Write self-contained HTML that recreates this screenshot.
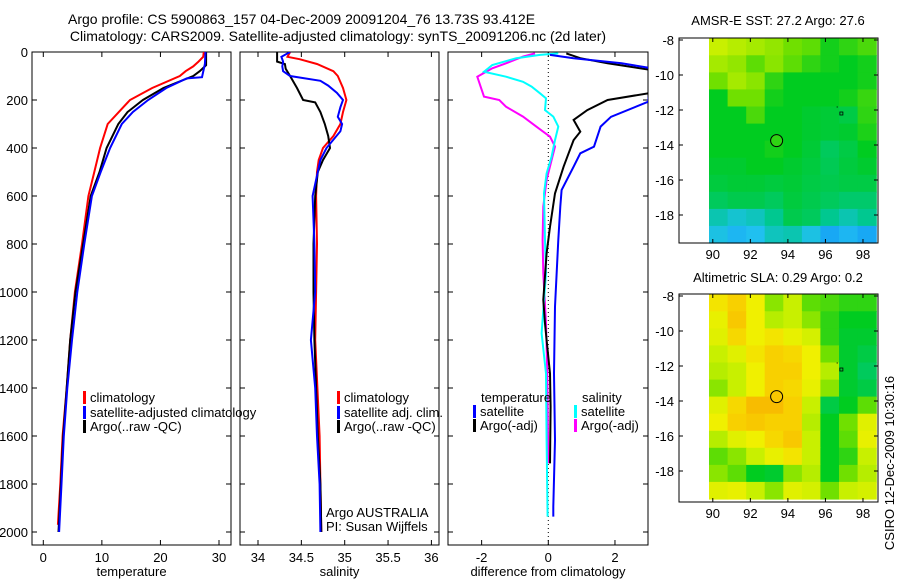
<!DOCTYPE html>
<html><head><meta charset="utf-8">
<style>
html,body{margin:0;padding:0;background:#fff;}
svg{display:block;font-family:"Liberation Sans",sans-serif;}
text{font-size:13px;fill:#000;}
</style></head>
<body>
<svg id="fig" width="900" height="580" viewBox="0 0 900 580" xmlns="http://www.w3.org/2000/svg">
<text x="68" y="24" text-anchor="start" style="font-size:14px">Argo profile: CS 5900863_157 04-Dec-2009 20091204_76 13.73S 93.412E</text>
<text x="338" y="41" text-anchor="middle" style="font-size:14px">Climatology: CARS2009. Satellite-adjusted climatology: synTS_20091206.nc (2d later)</text>
<text x="778" y="25" text-anchor="middle">AMSR-E SST: 27.2 Argo: 27.6</text>
<text x="778" y="282" text-anchor="middle">Altimetric SLA: 0.29 Argo: 0.2</text>
<text x="0" y="0" text-anchor="middle" transform="translate(894,463) rotate(-90)">CSIRO 12-Dec-2009 10:30:16</text>
</svg>
<script>
// ---------- data ----------
const depthTicks=[0,200,400,600,800,1000,1200,1400,1600,1800,2000];
const tempTicks=[0,10,20,30];
const salTicks=[34,34.5,35,35.5,36];
const diffTicks=[-2,0,2];
const lonTicks=[90,92,94,96,98];
const latTicks=[-8,-10,-12,-14,-16,-18];

const tClimDepth=[0,20,40,60,80,100,150,200,300,400,500,600,800,1000,1200,1400,1600,1800,1970];
const tClimVal=[27.4,27.3,26.5,25.6,24.3,23.3,18.6,14.8,11.0,9.7,8.7,7.7,6.6,5.4,4.6,4.0,3.3,2.9,2.5];
const tSatDepth=[0,50,105,110,150,200,250,300,400,500,600,800,1000,1200,1400,1600,1800,2000];
const tSatVal=[27.7,27.6,27.1,24.5,21.0,17.9,15.3,13.4,11.4,9.8,8.3,7.0,5.8,4.9,4.1,3.5,3.1,2.7];
const tArgoDepth=[0,55,80,100,150,200,250,300,400,500,600,800,1000,1200,1400,1600,1800,2000];
const tArgoVal=[27.8,27.8,26.7,25.6,20.5,17.0,14.4,12.8,10.8,9.6,8.1,6.8,5.5,4.6,4.0,3.4,3.0,2.6];

const sClimDepth=[0,20,30,50,80,100,150,200,250,300,350,400,450,500,600,800,1200,1600,1800,2000];
const sClimVal=[34.37,34.34,34.48,34.68,34.87,34.92,34.98,35.02,34.98,34.95,34.87,34.75,34.70,34.68,34.67,34.68,34.66,34.71,34.72,34.73];
const sSatDepth=[0,20,40,60,80,100,120,140,170,200,230,270,300,330,400,450,500,600,800,1000,1200,1400,1600,1800,2000];
const sSatVal=[34.37,34.27,34.29,34.28,34.29,34.37,34.72,34.81,34.91,34.98,34.95,34.92,34.97,34.95,34.79,34.72,34.69,34.63,34.65,34.66,34.61,34.66,34.68,34.71,34.72];
const sArgoDepth=[0,40,50,70,100,150,200,210,250,300,350,400,450,500,600,800,1000,1200,1400,1600,1800,2000];
const sArgoVal=[34.22,34.22,34.31,34.32,34.37,34.45,34.52,34.66,34.72,34.77,34.81,34.83,34.75,34.69,34.66,34.64,34.64,34.65,34.67,34.69,34.72,34.73];

const dTSatDepth=[12,26,47,68,207,270,311,394,422,478,575,644,783,1061,1339,1617,1894,1936];
const dTSatVal=[0.05,0.76,2.2,3.1,3.0,1.88,1.57,1.37,0.96,0.76,0.4,0.36,0.3,0.2,0.17,0.2,0.15,0.15];
const dTArgoDepth=[6,26,47,75,172,200,242,283,332,367,422,478,589,728,839,1033,1131,1200,1339,1478,1714];
const dTArgoVal=[0.54,0.96,1.78,3.1,3.0,1.78,1.17,0.76,0.96,0.76,0.61,0.46,0.2,0.05,-0.05,-0.15,-0.1,-0.05,0.05,0.07,0.05];
const dSSatDepth=[6,12,26,54,82,103,124,144,172,193,242,269,311,367,436,506,589,783,922,1172,1339,1617,1936];
const dSSatVal=[0.3,-0.25,-0.96,-1.68,-1.93,-1.27,-0.76,-0.5,-0.25,-0.07,-0.1,0.15,0.3,0.2,0.1,-0.05,-0.13,-0.1,-0.07,-0.2,-0.07,-0.05,-0.02];
const dSArgoDepth=[6,19,47,68,103,144,186,200,228,269,311,353,394,450,533,644,783,922,1131,1339,1714];
const dSArgoVal=[-0.4,-0.76,-1.27,-1.68,-2.13,-2.03,-1.93,-1.47,-1.27,-0.76,-0.36,0.05,0.2,0.1,-0.05,-0.15,-0.17,-0.15,-0.07,-0.03,0];

const sstGrid=[
[0.72,0.70,0.68,0.66,0.62,0.60,0.52,0.55,0.58],
[0.68,0.66,0.60,0.65,0.60,0.55,0.52,0.50,0.52],
[0.62,0.68,0.65,0.55,0.50,0.50,0.50,0.50,0.52],
[0.50,0.62,0.62,0.52,0.50,0.50,0.50,0.52,0.56],
[0.50,0.50,0.58,0.50,0.50,0.48,0.47,0.45,0.55],
[0.50,0.50,0.50,0.50,0.50,0.48,0.47,0.48,0.53],
[0.50,0.50,0.50,0.52,0.50,0.47,0.42,0.45,0.50],
[0.48,0.48,0.50,0.50,0.48,0.46,0.43,0.46,0.48],
[0.46,0.47,0.47,0.46,0.47,0.45,0.44,0.45,0.45],
[0.42,0.44,0.44,0.42,0.46,0.44,0.42,0.40,0.40],
[0.30,0.25,0.28,0.35,0.44,0.42,0.35,0.30,0.35],
[0.22,0.18,0.20,0.28,0.30,0.22,0.15,0.18,0.15]];
const slaGrid=[
[0.85,0.90,0.82,0.65,0.72,0.60,0.58,0.55,0.55],
[0.80,0.92,0.82,0.70,0.72,0.65,0.55,0.50,0.50],
[0.78,0.88,0.82,0.85,0.80,0.75,0.55,0.48,0.48],
[0.72,0.78,0.85,0.90,0.88,0.82,0.62,0.48,0.45],
[0.70,0.72,0.82,0.90,0.90,0.82,0.70,0.48,0.42],
[0.65,0.72,0.82,0.90,0.88,0.80,0.65,0.48,0.45],
[0.78,0.88,0.95,0.95,0.90,0.72,0.45,0.50,0.60],
[0.82,0.90,0.92,0.90,0.90,0.70,0.50,0.62,0.78],
[0.70,0.78,0.82,0.88,0.92,0.72,0.50,0.60,0.80],
[0.60,0.65,0.72,0.80,0.85,0.72,0.50,0.55,0.72],
[0.65,0.60,0.50,0.48,0.65,0.70,0.50,0.62,0.70],
[0.78,0.80,0.72,0.65,0.78,0.75,0.62,0.72,0.75]];
const gridLon0=89.8, gridLon1=98.7, gridLat0=-7.9, gridLat1=-19.6;
const argoPos=[93.4,-13.75];
const sstCircleVal=0.55, slaCircleVal=0.92;

// ---------- helpers ----------
const NS="http://www.w3.org/2000/svg";
const svg=document.getElementById('fig');
function mk(tag,attrs,parent){const e=document.createElementNS(NS,tag);for(const k in attrs)e.setAttribute(k,attrs[k]);(parent||svg).appendChild(e);return e;}
function lin(d0,d1,r0,r1){return v=>r0+(v-d0)*(r1-r0)/(d1-d0);}
const yDepth=lin(0,2000,52,532);
const PY0=52,PY1=545;
const panels=[
 {name:'temperature',x0:32,x1:231,sx:lin(0,30,43.3,219),ticks:tempTicks,label:'temperature'},
 {name:'salinity',x0:240,x1:439,sx:lin(34,36,258,431.4),ticks:salTicks,label:'salinity'},
 {name:'difference',x0:448,x1:648,sx:lin(-3,3,448.3,648.3),ticks:diffTicks,label:'difference from climatology'}];

function drawLine(p,dep,val,color,name,w){
  const pts=dep.map((d,i)=>{let x=p.sx(val[i]);x=Math.max(p.x0-30,Math.min(p.x1+30,x));return x.toFixed(1)+','+yDepth(d).toFixed(1);}).join(' ');
  const g=p.clip;
  const el=mk('polyline',{points:pts,fill:'none',stroke:color,'stroke-width':w||2,'stroke-linejoin':'miter'},g);
  
  
}

// ---------- profile panels ----------
const defs=mk('defs',{});
panels.forEach((p,pi)=>{
  const cp=mk('clipPath',{id:'clip'+pi},defs);
  mk('rect',{x:p.x0,y:PY0,width:p.x1-p.x0,height:PY1-PY0},cp);
  const frame=mk('rect',{x:p.x0,y:PY0,width:p.x1-p.x0,height:PY1-PY0,fill:'none',stroke:'#000','stroke-width':1});
  
  
  depthTicks.forEach(d=>{
    const y=yDepth(d);
    mk('line',{x1:p.x0,x2:p.x0+5,y1:y,y2:y,stroke:'#000'});
    mk('line',{x1:p.x1-5,x2:p.x1,y1:y,y2:y,stroke:'#000'});
    if(pi===0){
      const t=mk('text',{x:p.x0-4,y:y+5,'text-anchor':'end'});t.textContent=d;
      
      
    }
  });
  p.ticks.forEach(v=>{
    const x=p.sx(v);
    mk('line',{x1:x,x2:x,y1:PY1,y2:PY1-5,stroke:'#000'});
    mk('line',{x1:x,x2:x,y1:PY0,y2:PY0+5,stroke:'#000'});
    const t=mk('text',{x:x,y:562,'text-anchor':'middle'});t.textContent=v;
    
    
  });
  const xl=mk('text',{x:(p.x0+p.x1)/2,y:576,'text-anchor':'middle'});xl.textContent=p.label;
  
  
  p.clip=mk('g',{'clip-path':'url(#clip'+pi+')'});
});
// zero line
const zl=mk('line',{x1:panels[2].sx(0),x2:panels[2].sx(0),y1:PY0,y2:PY1,stroke:'#000','stroke-dasharray':'1,3','stroke-width':1},panels[2].clip);



drawLine(panels[0],tClimDepth,tClimVal,'#ff0000','temp-climatology-line');
drawLine(panels[0],tArgoDepth,tArgoVal,'#000000','temp-argo-line');
drawLine(panels[0],tSatDepth,tSatVal,'#0000ff','temp-satellite-line');
drawLine(panels[1],sClimDepth,sClimVal,'#ff0000','sal-climatology-line');
drawLine(panels[1],sArgoDepth,sArgoVal,'#000000','sal-argo-line');
drawLine(panels[1],sSatDepth,sSatVal,'#0000ff','sal-satellite-line');
drawLine(panels[2],dSArgoDepth,dSArgoVal,'#ff00ff','diff-sal-argo-line');
drawLine(panels[2],dSSatDepth,dSSatVal,'#00ffff','diff-sal-satellite-line');
drawLine(panels[2],dTArgoDepth,dTArgoVal,'#000000','diff-temp-argo-line');
drawLine(panels[2],dTSatDepth,dTSatVal,'#0000ff','diff-temp-satellite-line');

// legends
function legend(x,y,color,label,name){
  if(color){const m=mk('rect',{x:x,y:y-6,width:3,height:13,fill:color});
    
    }
  const t=mk('text',{x:x+7,y:y+5});t.textContent=label;
  
  
}
legend(83,397,'#ff0000','climatology','legend-climatology');
legend(83,412,'#0000ff','satellite-adjusted climatology','legend-satellite-adjusted');
legend(83,426,'#000000','Argo(..raw -QC)','legend-argo');
legend(337,397,'#ff0000','climatology','legend-sal-climatology');
legend(337,412,'#0000ff','satellite adj. clim.','legend-sal-satellite');
legend(337,426,'#000000','Argo(..raw -QC)','legend-sal-argo');
legend(474,397,null,'temperature','legend-temperature-header');
legend(473,411,'#0000ff','satellite','legend-diff-temp-satellite');
legend(473,425,'#000000','Argo(-adj)','legend-diff-temp-argo');
legend(575,397,null,'salinity','legend-salinity-header');
legend(574,411,'#00ffff','satellite','legend-diff-sal-satellite');
legend(574,425,'#ff00ff','Argo(-adj)','legend-diff-sal-argo');
const a1=mk('text',{x:326,y:517});a1.textContent='Argo AUSTRALIA';


const a2=mk('text',{x:326,y:531});a2.textContent='PI: Susan Wijffels';



// ---------- maps ----------
const cmStops=[[0,[0,96,255]],[0.2,[32,192,240]],[0.35,[0,200,144]],[0.5,[0,204,32]],[0.62,[112,224,0]],[0.72,[200,240,0]],[0.82,[240,240,0]],[0.9,[248,208,0]],[1,[248,168,0]]];
function cmap(v){for(let i=1;i<cmStops.length;i++){if(v<=cmStops[i][0]){const a=cmStops[i-1],b=cmStops[i];const t=(v-a[0])/(b[0]-a[0]);const c=a[1].map((x,k)=>Math.round(x+(b[1][k]-x)*t));return 'rgb('+c.join(',')+')';}}return 'rgb(248,168,0)';}
const maps=[{name:'sst-map',y0:38,y1:243,grid:sstGrid,cv:sstCircleVal},{name:'sla-map',y0:294,y1:502,grid:slaGrid,cv:slaCircleVal}];
maps.forEach(m=>{
  const X0=679,X1=878;
  const sx=lin(88.2,98.8,X0,X1);
  const sy=lin(-8,-18,m.y0+2,m.y0+2+175);
  const g=mk('g',{});
  
  
  const nr=m.grid.length,nc=m.grid[0].length;
  const dLon=(gridLon1-gridLon0)/nc,dLat=(gridLat1-gridLat0)/nr;
  m.grid.forEach((row,r)=>row.forEach((v,c)=>{
    const xa=sx(gridLon0+c*dLon),xb=sx(gridLon0+(c+1)*dLon);
    const ya=sy(gridLat0+r*dLat),yb=sy(gridLat0+(r+1)*dLat);
    const cell=mk('rect',{x:xa.toFixed(1),y:ya.toFixed(1),width:(xb-xa+0.6).toFixed(1),height:(yb-ya+0.6).toFixed(1),fill:cmap(v)},g);
    
    
  }));
  const circ=mk('circle',{cx:sx(argoPos[0]),cy:sy(argoPos[1]),r:6,fill:cmap(m.cv),stroke:'#000','stroke-width':1});
  
  
  mk('rect',{x:sx(96.85)-1.5,y:sy(-12.2)-1.5,width:3,height:3,fill:'none',stroke:'#000','stroke-width':0.8});
  mk('rect',{x:sx(96.6),y:sy(-11.8),width:1,height:1,fill:'#000'});
  const fr=mk('rect',{x:X0,y:m.y0,width:X1-X0,height:m.y1-m.y0,fill:'none',stroke:'#000'});
  
  
  latTicks.forEach(v=>{const y=sy(v);
    mk('line',{x1:X0,x2:X0+4,y1:y,y2:y,stroke:'#000'});mk('line',{x1:X1-4,x2:X1,y1:y,y2:y,stroke:'#000'});
    const t=mk('text',{x:X0-5,y:y+5,'text-anchor':'end'});t.textContent=v;
    
    });
  lonTicks.forEach(v=>{const x=sx(v);
    mk('line',{x1:x,x2:x,y1:m.y1,y2:m.y1-4,stroke:'#000'});mk('line',{x1:x,x2:x,y1:m.y0,y2:m.y0+4,stroke:'#000'});
    const t=mk('text',{x:x,y:m.y1+16,'text-anchor':'middle'});t.textContent=v;
    
    });
});
</script>
</body></html>
